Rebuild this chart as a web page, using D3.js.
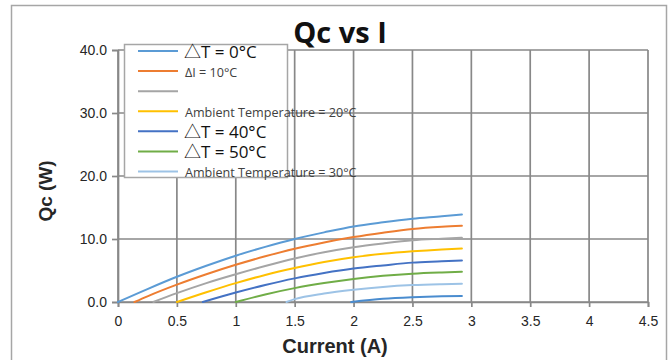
<!DOCTYPE html>
<html>
<head>
<meta charset="utf-8">
<script src="https://cdn.jsdelivr.net/npm/d3@7"></script>
<style>
  html, body { margin: 0; padding: 0; background: #fff; }
  svg { display: block; }
</style>
</head>
<body>
<svg id="chart" width="671" height="360"></svg>
<script>
// Cooling capacity Qc (W) against drive current I (A), one curve per temperature case.
const seriesA = [[0,0],[0.25,2.05],[0.5,4.0],[0.75,5.75],[1,7.35],[1.25,8.75],[1.5,10.0],[1.75,11.05],[2,12.0],[2.25,12.65],[2.5,13.2],[2.75,13.6],[2.92,13.9]];
const seriesB = [[0.14,0],[0.25,0.9],[0.5,2.75],[0.75,4.4],[1,5.9],[1.25,7.25],[1.5,8.45],[1.75,9.45],[2,10.3],[2.25,11.0],[2.5,11.6],[2.75,11.95],[2.92,12.1]];
const seriesC = [[0.3,0],[0.5,1.4],[0.75,3.0],[1,4.4],[1.25,5.7],[1.5,6.9],[1.75,7.9],[2,8.7],[2.25,9.3],[2.5,9.8],[2.75,10.05],[2.92,10.2]];
const seriesD = [[0.5,0],[0.75,1.55],[1,3.0],[1.25,4.3],[1.5,5.4],[1.75,6.35],[2,7.1],[2.25,7.65],[2.5,8.05],[2.75,8.35],[2.92,8.5]];
const seriesE = [[0.72,0],[1,1.5],[1.25,2.7],[1.5,3.75],[1.75,4.6],[2,5.3],[2.25,5.8],[2.5,6.25],[2.75,6.45],[2.92,6.6]];
const seriesF = [[1.0,0],[1.25,1.2],[1.5,2.2],[1.75,3.0],[2,3.65],[2.25,4.15],[2.5,4.5],[2.75,4.7],[2.92,4.8]];
const seriesG = [[1.43,0],[1.5,0.45],[1.75,1.35],[2,1.95],[2.25,2.4],[2.5,2.68],[2.75,2.82],[2.92,2.88]];
const seriesH = [[1.98,0],[2.25,0.5],[2.5,0.75],[2.75,0.9],[2.92,0.95]];

const allSeries = [seriesA, seriesB, seriesC, seriesD, seriesE, seriesF, seriesG, seriesH];
const seriesColors = ["#5b9bd5", "#ed7d31", "#a5a5a5", "#ffc000", "#4472c4", "#70ad47", "#9dc3e6", "#4a8ccf"];

// Legend entries (the last curve carries no entry)
const legendLabels = ["△T = 0°C", "ΔI = 10°C", "", "Ambient Temperature = 20°C", "△T = 40°C", "△T = 50°C", "Ambient Temperature = 30°C"];

const xTicks = [0, 0.5, 1, 1.5, 2, 2.5, 3, 3.5, 4, 4.5];
const yTicks = [0, 10, 20, 30, 40];

const titleText = "Qc vs I";
const xTitle = "Current (A)";
const yTitle = "Qc (W)";

const svg = d3.select("#chart");
const plot = { left: 118, right: 648, top: 50, bottom: 302 };

// Outer chart frame
svg.append("rect")
  .attr("x", 11.5).attr("y", 5.5)
  .attr("width", 655).attr("height", 420)
  .attr("fill", "#fff").attr("stroke", "#a6a6a6").attr("stroke-width", 1.5);

const x = d3.scaleLinear().domain([0, 4.5]).range([plot.left, plot.right]);
const y = d3.scaleLinear().domain([0, 40]).range([plot.bottom, plot.top]);

const gridColor = "#888888";

// Gridlines
svg.append("g").selectAll("line").data(xTicks).join("line")
  .attr("x1", d => x(d)).attr("x2", d => x(d))
  .attr("y1", plot.top).attr("y2", plot.bottom)
  .attr("stroke", gridColor).attr("stroke-width", 1.7);
svg.append("g").selectAll("line").data(yTicks).join("line")
  .attr("x1", plot.left).attr("x2", plot.right)
  .attr("y1", d => y(d)).attr("y2", d => y(d))
  .attr("stroke", gridColor).attr("stroke-width", 1.7);

// Axes
const xAxis = svg.append("g")
  .attr("transform", `translate(0,${plot.bottom})`)
  .call(d3.axisBottom(x).tickValues(xTicks).tickFormat(d3.format("")).tickSize(5).tickPadding(9));
const yAxis = svg.append("g")
  .attr("transform", `translate(${plot.left},0)`)
  .call(d3.axisLeft(y).tickValues(yTicks).tickFormat(d3.format(".1f")).tickSize(6).tickPadding(5));

[xAxis, yAxis].forEach(g => {
  g.select(".domain").attr("stroke", gridColor).attr("stroke-width", 1.7);
  g.selectAll(".tick line").attr("stroke", gridColor).attr("stroke-width", 1.7);
  g.selectAll(".tick text")
    .attr("fill", "#262626")
    .style("font-family", "'Liberation Sans', Arial, sans-serif")
    .style("font-size", "14px");
});

// Curves
const line = d3.line()
  .x(d => x(d[0]))
  .y(d => y(d[1]))
  .curve(d3.curveMonotoneX);

svg.append("g").selectAll("path").data(allSeries).join("path")
  .attr("d", line)
  .attr("fill", "none")
  .attr("stroke", (d, i) => seriesColors[i])
  .attr("stroke-width", 2)
  .attr("stroke-linecap", "round");

// Title
svg.append("text")
  .attr("x", 340).attr("y", 43)
  .attr("text-anchor", "middle")
  .style("font-family", "'Open Sans', sans-serif")
  .style("font-weight", "bold")
  .style("font-size", "29px")
  .attr("fill", "#111")
  .text(titleText);

// Axis titles
svg.append("text")
  .attr("x", 335).attr("y", 353)
  .attr("text-anchor", "middle")
  .style("font-family", "'Liberation Sans', Arial, sans-serif")
  .style("font-weight", "bold")
  .style("font-size", "20px")
  .attr("fill", "#262626")
  .text(xTitle);

svg.append("text")
  .attr("transform", "translate(52,191) rotate(-90)")
  .attr("text-anchor", "middle")
  .style("font-family", "'Liberation Sans', Arial, sans-serif")
  .style("font-weight", "bold")
  .style("font-size", "19px")
  .attr("fill", "#262626")
  .text(yTitle);

// Legend
const legend = svg.append("g");
legend.append("rect")
  .attr("x", 124.5).attr("y", 44.5)
  .attr("width", 163).attr("height", 133)
  .attr("fill", "#fff").attr("stroke", "#a6a6a6").attr("stroke-width", 1.5);

const rowY = d3.scaleLinear().domain([0, legendLabels.length - 1]).range([51, 171.5]);
const rows = legend.selectAll("g.row").data(legendLabels).join("g")
  .attr("class", "row")
  .attr("transform", (d, i) => `translate(0,${rowY(i)})`);

rows.append("line")
  .attr("x1", 138).attr("x2", 178)
  .attr("stroke", (d, i) => seriesColors[i])
  .attr("stroke-width", 2);

rows.append("text")
  .attr("x", d => d.startsWith("△") ? 184 : 185)
  .attr("y", d => d.startsWith("△") ? 7 : 5.5)
  .style("font-family", "'Open Sans', 'Noto Sans CJK JP', sans-serif")
  .style("font-size", d => d.startsWith("△") ? "17px" : "12.6px")
  .attr("fill", d => d.startsWith("△") ? "#111" : "#404040")
  .text(d => d);
</script>
</body>
</html>
